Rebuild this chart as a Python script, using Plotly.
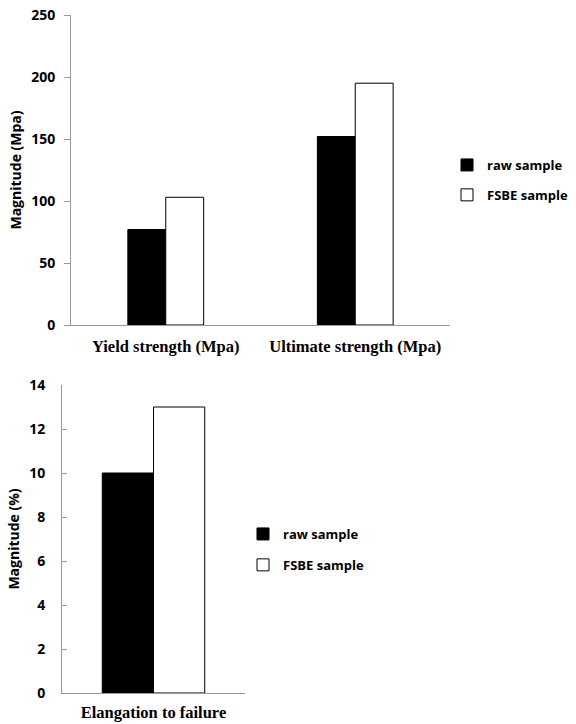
import plotly.graph_objects as go

# Data
strength_categories = ["Yield strength (Mpa)", "Ultimate strength (Mpa)"]
strength_raw = [77, 152]
strength_fsbe = [103, 195]

elong_categories = ["Elangation to failure"]
elong_raw = [10]
elong_fsbe = [13]

series_names = ["raw sample", "FSBE sample"]
y1_ticks = [0, 50, 100, 150, 200, 250]
y2_ticks = [0, 2, 4, 6, 8, 10, 12, 14]

W, H = 576, 724
def px_x(v):
    return v / W
def px_y(v):
    return 1 - v / H

w_top = 0.2
w_bot = 0.28

fig = go.Figure()

fig.add_trace(go.Bar(x=strength_categories, y=strength_raw, name=series_names[0],
                     width=w_top, offset=-w_top,
                     marker=dict(color="black", line=dict(color="black", width=1)),
                     xaxis="x", yaxis="y", legend="legend", legendgroup="a"))
fig.add_trace(go.Bar(x=strength_categories, y=strength_fsbe, name=series_names[1],
                     width=w_top, offset=0,
                     marker=dict(color="white", line=dict(color="black", width=1)),
                     xaxis="x", yaxis="y", legend="legend", legendgroup="b"))
fig.add_trace(go.Bar(x=elong_categories, y=elong_raw, name=series_names[0],
                     width=w_bot, offset=-w_bot,
                     marker=dict(color="black", line=dict(color="black", width=1)),
                     xaxis="x2", yaxis="y2", legend="legend2", legendgroup="c"))
fig.add_trace(go.Bar(x=elong_categories, y=elong_fsbe, name=series_names[1],
                     width=w_bot, offset=0,
                     marker=dict(color="white", line=dict(color="black", width=1)),
                     xaxis="x2", yaxis="y2", legend="legend2", legendgroup="d"))

tick_font = dict(family="Open Sans", size=14, color="black", weight="bold")
cat_font = dict(family="Liberation Serif", size=16.5, color="black", weight="bold")
title_font = dict(family="Open Sans", size=14, color="black", weight="bold")
legend_font = dict(family="Open Sans", size=13, color="black", weight="bold")
axis_color = "#999999"

fig.update_layout(
    width=W, height=H,
    margin=dict(l=0, r=0, t=0, b=0),
    paper_bgcolor="white", plot_bgcolor="white",
    barmode="overlay",
    showlegend=True,
    xaxis=dict(domain=[px_x(71), px_x(450)], anchor="y", showline=True, linecolor=axis_color,
               ticks="", tickfont=cat_font, ticklabelstandoff=6,
               showgrid=False, zeroline=False, automargin=False),
    yaxis=dict(domain=[px_y(325), px_y(15)], anchor="x", range=[0, 250], tickvals=y1_ticks,
               showline=True, linecolor=axis_color, ticks="outside", ticklen=6, tickcolor=axis_color,
               ticklabelstandoff=6,
               tickfont=tick_font, showgrid=False, zeroline=False, automargin=False,
               title=dict(text="Magnitude (Mpa)", font=title_font, standoff=6)),
    xaxis2=dict(domain=[px_x(62), px_x(245)], anchor="y2", showline=True, linecolor=axis_color,
                ticks="", tickfont=cat_font, ticklabelstandoff=4,
                showgrid=False, zeroline=False, automargin=False),
    yaxis2=dict(domain=[px_y(693), px_y(385)], anchor="x2", range=[0, 14], tickvals=y2_ticks,
                showline=True, linecolor=axis_color, ticks="inside", ticklen=5, tickcolor=axis_color,
                ticklabelstandoff=13,
                tickfont=tick_font, showgrid=False, zeroline=False, automargin=False,
                title=dict(text="Magnitude (%)", font=title_font, standoff=6)),
    legend=dict(x=px_x(447), y=px_y(150), xanchor="left", yanchor="top",
                font=legend_font, tracegroupgap=10, itemwidth=30, bgcolor="rgba(0,0,0,0)"),
    legend2=dict(x=px_x(243), y=px_y(519), xanchor="left", yanchor="top",
                 font=legend_font, tracegroupgap=11, itemwidth=30, bgcolor="rgba(0,0,0,0)"),
)

fig.write_html("out.html")
